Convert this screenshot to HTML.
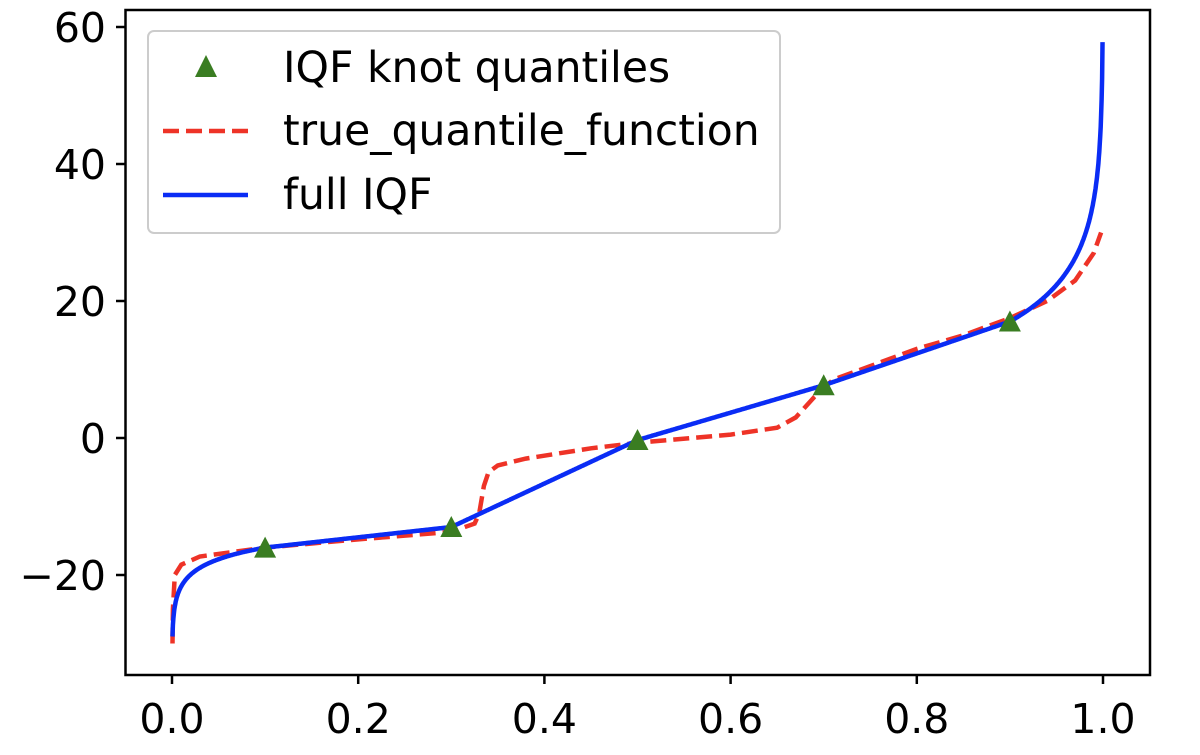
<!DOCTYPE html><html><head><style>body{margin:0;background:#fff}svg{display:block}text{font-family:"DejaVu Sans","Liberation Sans",sans-serif}</style></head><body>
<svg id="s" width="1200" height="755" viewBox="0 0 1200 755">
<rect x="125.5" y="10" width="1024.5" height="665" fill="none" stroke="#000" stroke-width="2.5"/>
<g id="ticks" font-size="41" fill="#000"></g>
<path id="red" fill="none" stroke="#ee3327" stroke-width="4.5" stroke-dasharray="16,7"/>
<path id="blue" fill="none" stroke="#0a2cf5" stroke-width="4.5"/>
<g id="tri" fill="#3a7d22"></g>
<rect x="148" y="31" width="632" height="202" rx="6" fill="#fff" fill-opacity="0.85" stroke="#ccc" stroke-width="2"/>
<polygon points="206,55 195,77 217,77" fill="#3a7d22"/>
<line x1="163" y1="131" x2="248" y2="131" stroke="#ee3327" stroke-width="4.5" stroke-dasharray="16,7"/>
<line x1="163" y1="195" x2="248" y2="195" stroke="#0a2cf5" stroke-width="4.5"/>
<g font-size="42.5" fill="#000"><text x="283" y="82">IQF knot quantiles</text><text x="283" y="145">true_quantile_function</text><text x="283" y="209">full IQF</text></g>
</svg>
<script>
const X=p=>172+p*931,Y=v=>438-v*6.85;
let t=document.getElementById('ticks'),h='';
for(let i=0;i<=5;i++){let p=i*0.2,x=X(p);h+=`<line x1="${x}" y1="675" x2="${x}" y2="684" stroke="#000" stroke-width="2.5"/><text x="${x}" y="733" text-anchor="middle">${p.toFixed(1)}</text>`;}
for(let v=-20;v<=60;v+=20){let y=Y(v);h+=`<line x1="116" y1="${y}" x2="125.5" y2="${y}" stroke="#000" stroke-width="2.5"/><text x="106" y="${y+15}" text-anchor="end">${v<0?'\u2212'+(-v):v}</text>`;}
t.innerHTML=h;
const kn=[[0.1,-16],[0.3,-13],[0.5,-0.3],[0.7,7.7],[0.9,17]];
function blue(p){if(p<0.1)return -16+2.45*Math.log(p/0.1);if(p>0.9)return 17-7.7*Math.log((1-p)/0.1);
for(let i=0;i<4;i++){let a=kn[i],b=kn[i+1];if(p<=b[0])return a[1]+(b[1]-a[1])*(p-a[0])/(b[0]-a[0]);}}
let d='';for(let i=0;i<=2000;i++){let p=0.0005+i*(0.999-0.0005)/2000;p=Math.min(p,0.9995);d+=(i?'L':'M')+X(p).toFixed(1)+','+Y(blue(p)).toFixed(1);}
d+='L'+X(0.9995)+','+Y(17-7.7*Math.log(0.005));
document.getElementById('blue').setAttribute('d',d);
const rp=[[0.0005,-30],[0.001,-25],[0.003,-20],[0.01,-18.5],[0.03,-17.3],[0.1,-16],[0.2,-14.8],[0.3,-13.7],[0.325,-12.5],[0.33,-11],[0.335,-7],[0.34,-5],[0.35,-4],[0.38,-3],[0.45,-1.5],[0.5,-0.7],[0.6,0.5],[0.65,1.5],[0.67,3],[0.69,6],[0.71,8.5],[0.75,10.5],[0.8,13],[0.85,15],[0.9,17.5],[0.94,20],[0.97,23],[0.99,27],[0.998,30]];
document.getElementById('red').setAttribute('d',rp.map((q,i)=>(i?'L':'M')+X(q[0]).toFixed(1)+','+Y(q[1]).toFixed(1)).join(''));
let tr='';kn.forEach(k=>{let x=X(k[0]),y=Y(k[1]);tr+=`<polygon points="${x},${y-11} ${x-11},${y+10} ${x+11},${y+10}"/>`});
document.getElementById('tri').innerHTML=tr;
</script></body></html>
